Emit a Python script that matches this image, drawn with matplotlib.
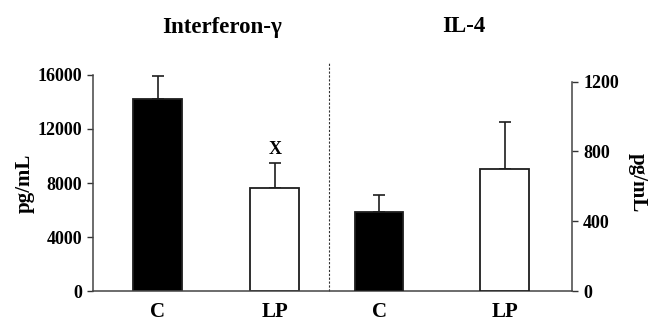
import matplotlib
matplotlib.use("Agg")
import matplotlib.pyplot as plt

groups = ["C", "LP"]
ifn_mean = [14200, 7650]
ifn_err = [1700, 1800]
il4_mean = [455, 700]
il4_err = [95, 270]
ifn_ticks = [0, 4000, 8000, 12000, 16000]
il4_ticks = [0, 400, 800, 1200]

plt.rcParams['font.family'] = ['Liberation Serif', 'DejaVu Serif']
plt.rcParams['font.weight'] = 'bold'

fig = plt.figure(figsize=(6.49, 3.22), dpi=100)
ax = fig.add_axes([93/649, 31/322, 479/649, 216/322])
ax2 = ax.twinx()

# x positions in axis pixels
pos_ifn = [64.5, 181.7]
pos_il4 = [286.2, 411.5]
w = 48.5
colors = ["black", "white"]
edge = "#1e1e1e"

ax.bar(pos_ifn, ifn_mean, width=w, color=colors, edgecolor=edge, linewidth=1.3, zorder=2)
ax.errorbar(pos_ifn, ifn_mean, yerr=[[0, 0], ifn_err], fmt="none", ecolor=edge,
            elinewidth=1.2, capsize=4, capthick=1.2, zorder=1)
ax2.bar(pos_il4, il4_mean, width=w, color=colors, edgecolor=edge, linewidth=1.3, zorder=2)
ax2.errorbar(pos_il4, il4_mean, yerr=[[0, 0], il4_err], fmt="none", ecolor=edge,
             elinewidth=1.2, capsize=4, capthick=1.2, zorder=1)

ax.set_xlim(0, 479)
ax.set_ylim(0, 16000)
ax2.set_ylim(0, 1200 * 216 / 209.3)
ax.set_yticks(ifn_ticks)
ax2.set_yticks(il4_ticks)
ax.set_xticks(pos_ifn + pos_il4)
ax.set_xticklabels(groups + groups, fontsize=15, fontweight="bold")
ax.tick_params(axis="x", length=0, pad=8)
ax.tick_params(axis="y", length=4, width=1, labelsize=13, colors="#333333", labelcolor="black", pad=4)
ax2.tick_params(axis="y", length=4, width=1, labelsize=13, colors="#333333", labelcolor="black", pad=4)

for a in (ax, ax2):
    a.spines["top"].set_visible(False)
    for s in a.spines.values():
        s.set_color("#444444")
        s.set_linewidth(1.1)
ax.spines["right"].set_visible(False)
ax2.spines["left"].set_visible(False)
ax2.spines["bottom"].set_visible(False)
ax2.spines["right"].set_bounds(0, 1200)

ax.set_ylabel("pg/mL", fontsize=15, fontweight="bold", labelpad=2)
ax2.set_ylabel("pg/mL", fontsize=15, fontweight="bold", rotation=270, labelpad=21)

# separator between the two panels
ax.axvline(236, ymin=0, ymax=(291 - 62) / 216, color="#333333", linestyle=(0, (2, 1.5)),
           linewidth=0.8, clip_on=False)

ax.text(pos_ifn[1], ifn_mean[1] + ifn_err[1] + 400, "X", ha="center", va="bottom",
        fontsize=13, fontweight="bold")

fig.text(222/649, 1 - 27/322, "Interferon-γ", ha="center", va="center", fontsize=16.5, fontweight="bold")
fig.text(464/649, 1 - 27/322, "IL-4", ha="center", va="center", fontsize=16.5, fontweight="bold")

fig.savefig("out.png", dpi=100)
